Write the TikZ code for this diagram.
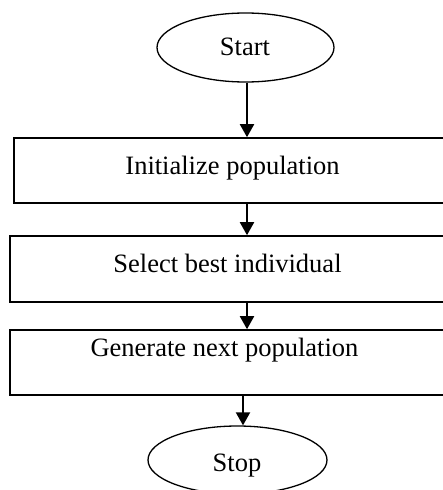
\documentclass[tikz,border=0pt]{standalone}
\usepackage{fontspec}
\setmainfont{Liberation Serif}
\usetikzlibrary{shapes.geometric,arrows.meta}
\begin{document}
\begin{tikzpicture}[x=1pt,y=-1pt,
  oval/.style={draw=black,line width=1.3pt,ellipse,inner sep=0pt},
  stepbox/.style={draw=black,line width=1.6pt,rectangle,inner sep=0pt},
  lbl/.style={inner sep=0pt,anchor=base,font=\fontsize{26.5}{30}\selectfont},
  arr/.style={line width=2pt,-{Triangle[length=13pt,width=14pt]}}]
\useasboundingbox (0,0) rectangle (443,490);
% shapes
\node[oval,minimum width=177pt,minimum height=69pt] (start) at (245.5,47.5) {};
\node[stepbox,minimum width=437pt,minimum height=65pt] (b1) at (232.5,170.5) {};
\node[stepbox,minimum width=436pt,minimum height=66pt] (b2) at (228,269) {};
\node[stepbox,minimum width=436pt,minimum height=65pt] (b3) at (228,362.5) {};
\node[oval,minimum width=179pt,minimum height=68pt] (stop) at (237.5,460) {};
% texts
\node[lbl] (tstart) at (245,55) {Start};
\node[lbl] (t1) at (232.5,174) {Initialize population};
\node[lbl] (t2) at (227.5,272.7) {Select best individual};
\node[lbl] (t3) at (224.5,356.7) {Generate next population};
\node[lbl] (tstop) at (237,471.7) {Stop};
% columns for connectors
\coordinate (c1) at (247,0);
\coordinate (c2) at (243,0);
\draw[arr] (start.south -| c1) -- (b1.north -| c1);
\draw[arr] (b1.south -| c1) -- (b2.north -| c1);
\draw[arr] (b2.south -| c1) -- (b3.north -| c1);
\draw[arr] (b3.south -| c2) -- (stop.north -| c2);
\end{tikzpicture}
\end{document}
